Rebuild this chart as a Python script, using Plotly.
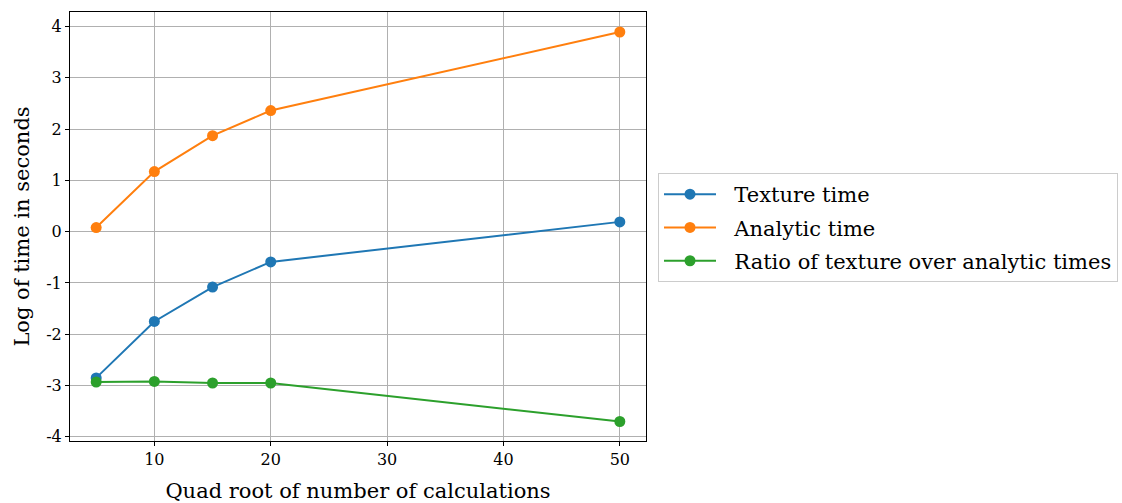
import plotly.graph_objects as go

x_vals = [5, 10, 15, 20, 50]
texture_time = [-2.85, -1.75, -1.08, -0.59, 0.19]
analytic_time = [0.08, 1.17, 1.87, 2.36, 3.89]
ratio_times = [-2.93, -2.92, -2.95, -2.95, -3.70]

x_ticks = [10, 20, 30, 40, 50]
y_ticks = [-4, -3, -2, -1, 0, 1, 2, 3, 4]
y_ticktext = ["-4", "-3", "-2", "-1", "0", "1", "2", "3", "4"]

FONT = "DejaVu Serif"

fig = go.Figure()
series = [
    ("Texture time", texture_time, "#1f77b4"),
    ("Analytic time", analytic_time, "#ff7f0e"),
    ("Ratio of texture over analytic times", ratio_times, "#2ca02c"),
]
for name, vals, col in series:
    fig.add_trace(go.Scatter(
        x=x_vals, y=vals, name="\u00a0\u00a0" + name, mode="lines+markers",
        legendgroup=name,
        line=dict(color=col, width=2),
        marker=dict(color=col, size=11),
    ))

fig.update_layout(
    width=1122, height=503,
    margin=dict(l=70, r=476, t=12, b=62, autoexpand=False),
    plot_bgcolor="white", paper_bgcolor="white",
    font=dict(family=FONT, size=18, color="black"),
    legend=dict(
        xref="container", yref="container",
        x=658 / 1122, y=1 - 173 / 503, xanchor="left", yanchor="top",
        bordercolor="#cccccc", borderwidth=1, bgcolor="white",
        font=dict(family=FONT, size=21), itemwidth=52,
        tracegroupgap=3,
    ),
    xaxis=dict(
        range=[2.75, 52.25], tickvals=x_ticks,
        showgrid=True, gridcolor="#b0b0b0", gridwidth=1,
        showline=True, linecolor="black", linewidth=1, mirror=True,
        ticks="outside", ticklen=4, tickcolor="black",
        zeroline=False,
        title=dict(text="Quad root of number of calculations", standoff=15,
                   font=dict(family=FONT, size=21)),
        tickfont=dict(family=FONT, size=16),
    ),
    yaxis=dict(
        range=[-4.08, 4.28], tickvals=y_ticks, ticktext=y_ticktext,
        showgrid=True, gridcolor="#b0b0b0", gridwidth=1,
        showline=True, linecolor="black", linewidth=1, mirror=True,
        ticks="outside", ticklen=4, tickcolor="black",
        zeroline=False,
        title=dict(text="Log of time in seconds", standoff=10,
                   font=dict(family=FONT, size=21)),
        tickfont=dict(family=FONT, size=16),
    ),
)

fig.write_html("out.html")
